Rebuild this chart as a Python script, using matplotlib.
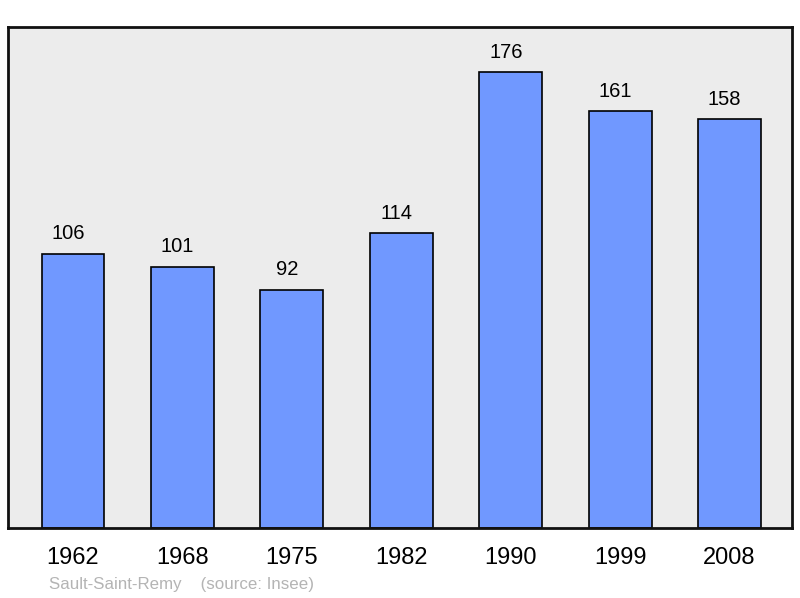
import numpy as np
import matplotlib.pyplot as plt

plt.rcParams['font.family'] = ['Liberation Sans', 'DejaVu Sans']

# Population data
years = ['1962', '1968', '1975', '1982', '1990', '1999', '2008']
population = [106, 101, 92, 114, 176, 161, 158]

fig = plt.figure(figsize=(8, 5.98), dpi=100, facecolor='white')
ax = fig.add_axes([0.01, 0.117, 0.98, 0.838])
ax.set_facecolor('#ececec')

x = np.arange(len(years))
ax.bar(x, population, width=0.575, color='#7098ff', edgecolor='black',
       linewidth=1.2, zorder=2)

# value labels, sit a bit left of the bar centre like the original
for xi, v in zip(x, population):
    ax.annotate(str(v), (xi, v), xytext=(-3.5, 7.5), textcoords='offset points',
                ha='center', va='bottom', fontsize=14.5, color='black')

ax.set_xlim(-0.594, 6.571)
ax.set_ylim(0, max(population) * 1.1)
ax.set_yticks([])
ax.set_xticks(x)
ax.set_xticklabels(years, fontsize=17)
ax.tick_params(axis='x', length=0, pad=14)

for s in ax.spines.values():
    s.set_linewidth(2)
    s.set_color('#111111')

fig.text(49 / 800, 1 - 585 / 598, 'Sault-Saint-Remy    (source: Insee)',
         fontsize=12.2, color='#b4b4b4', ha='left', va='center')

fig.savefig('out.png', dpi=100)
